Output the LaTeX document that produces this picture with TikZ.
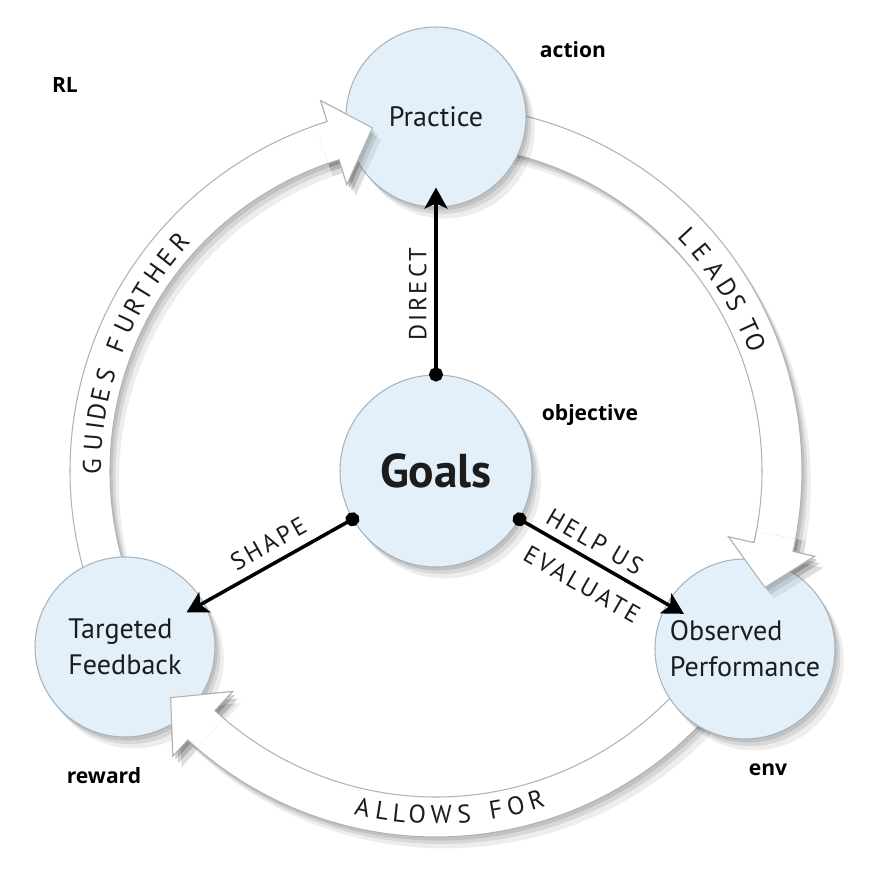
\documentclass[tikz,border=0pt]{standalone}
\usepackage{fontspec}
\setmainfont{PT Sans}
\newfontfamily\notefont{Open Sans}
\newfontfamily\tagfont[LetterSpace=12]{PT Sans}
\usetikzlibrary{arrows.meta,shadows}
\definecolor{rlBlueL}{HTML}{E3F0FA}
\definecolor{rlBlueD}{HTML}{A7B3BD}
\definecolor{rlGray}{HTML}{B2B2B2}
\definecolor{rlText}{HTML}{1C1C1C}
\tikzset{
  rl-shadow/.style={
    drop shadow={opacity=.10, fill=black, shadow xshift=1.5pt, shadow yshift=-2pt},
    drop shadow={opacity=.09, fill=black, shadow xshift=3pt, shadow yshift=-4pt},
    drop shadow={opacity=.07, fill=black, shadow xshift=5pt, shadow yshift=-6.5pt}
  },
  rl-node/.style={circle, draw=rlBlueD, line width=0.6pt, fill=rlBlueL,
    minimum size=3.6cm, inner sep=0pt, align=left, text=rlText,
    font=\fontsize{16}{20.5}\selectfont, rl-shadow},
  rl-band/.style={draw=rlGray, line width=0.6pt, fill=white, rl-shadow},
  rl-link/.style={line width=2pt,
    {Circle[length=2.8mm]}-{Stealth[length=4.2mm,width=4.6mm,inset=1mm]},
    shorten <=-1.4mm, shorten >=-4mm},
  rl-tag/.style={font=\tagfont\fontsize{14}{16}\selectfont, text=rlText, sloped},
  rl-letter/.style={inner sep=0pt, font=\fontsize{14.5}{14.5}\selectfont, text=rlText},
  rl-note/.style={font=\notefont\bfseries\fontsize{12}{14}\selectfont}
}

\begin{document}
\begin{tikzpicture}
\fill[white] (-8.72,-8.18) rectangle (8.98,9.42);

% ring arrows
\foreach \s/\b/\t in {85/-12.7/-19.5, 205/107.3/100.5, 325/227.3/220.5}
  \draw[rl-band] (\s:6.52) arc[start angle=\s, end angle=\b, radius=6.52]
    -- (\b:6) -- (\t:6.98) -- (\b:7.76) -- (\b:7.32)
    arc[start angle=\b, end angle=\s, radius=7.32] -- cycle;

% circles
\node[rl-node, minimum size=3.84cm, align=center,
  font=\bfseries\fontsize{27}{30}\selectfont] (goals) at (0,0) {Goals};
\node[rl-node] (practice) at (0,7.08) {Practice};
\node[rl-node] (observed) at (6.18,-3.56) {Observed\\Performance};
\node[rl-node] (feedback) at (-6.22,-3.52) {Targeted\\Feedback};

% arrow heads over the circles
\foreach \s/\b/\t in {85/-12.7/-19.5, 205/107.3/100.5, 325/227.3/220.5}{
  \begin{scope}
    \clip (0,0) -- ({\b+2}:9) arc[start angle=\b+2, end angle=\t-2, radius=9] -- cycle;
    \draw[rl-band] (\s:6.52) arc[start angle=\s, end angle=\b, radius=6.52]
      -- (\b:6) -- (\t:6.98) -- (\b:7.76) -- (\b:7.32)
      arc[start angle=\b, end angle=\s, radius=7.32] -- cycle;
  \end{scope}
}

% links from the goals
\draw[rl-link] (goals.90) -- node[rl-tag, pos=0.48, above=1pt] {DIRECT} (practice);
\draw[rl-link] (goals.210) -- node[rl-tag, pos=0.5, above=2pt] {SHAPE} (feedback);
\draw[rl-link] (goals.330) -- node[rl-tag, pos=0.45, above=1pt] {HELP US}
  node[rl-tag, pos=0.51, below=5pt] {EVALUATE} (observed);

% text on the ring (letter / angle)
\foreach \ch/\ang [count=\i] in {G/179.3, U/175.3, I/172.5, D/170.1, E/167.2, S/163.8,
    F/158.5, U/154.8, R/151.5, T/148.6, H/144.9, E/141.6, R/138.3}
  \node[rl-letter, rotate=\ang-90] (guide-\i) at (\ang:6.88) {\ch};
\foreach \ch/\ang [count=\i] in {L/43, E/39.5, A/35.7, D/32.2, S/29.3, T/24.8, O/21.9}
  \node[rl-letter, rotate=\ang-90] (lead-\i) at (\ang:6.88) {\ch};
\foreach \ch/\ang [count=\i] in {A/257.7, L/261, L/263.9, O/266.9, W/270.9, S/274.7,
    F/280, O/283.4, R/286.9}
  \node[rl-letter, rotate=\ang+90] (allow-\i) at (\ang:6.88) {\ch};

% RL terms
\node[rl-note] (rl) at (-7.42,7.72) {RL};
\node[rl-note] (action) at (2.74,8.42) {action};
\node[rl-note] (objective) at (3.08,1.12) {objective};
\node[rl-note] (reward) at (-6.64,-6.10) {reward};
\node[rl-note] (env) at (6.64,-5.98) {env};
\end{tikzpicture}
\end{document}
